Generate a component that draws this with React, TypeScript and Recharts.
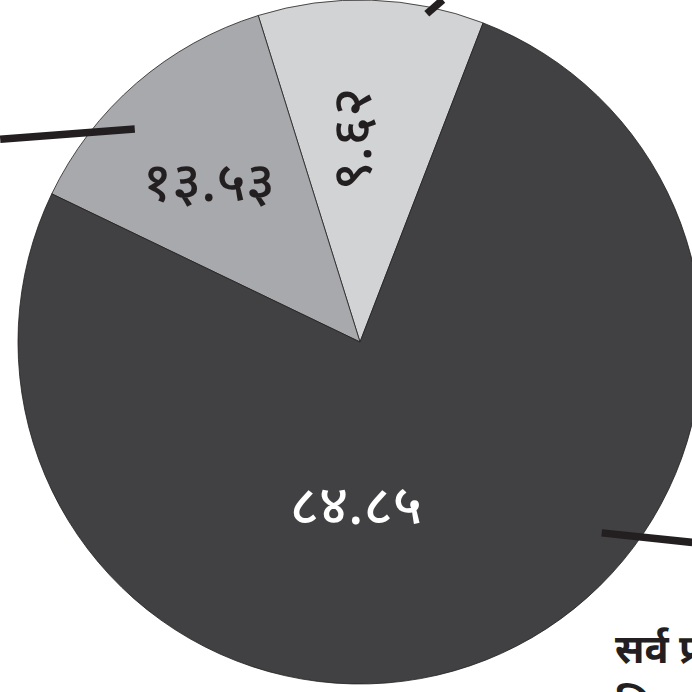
import React from 'react';
import { PieChart, Pie, Cell } from 'recharts';

// slice shares (angular extent), in drawing order
const sliceNames = ['light', 'mid', 'dark'];
const sliceShares = [10.67, 13.06, 76.27];
// printed value labels (Devanagari numerals)
const sliceLabels = ['९.६२', '१३.५३', '८४.८५'];
const footerLines = ['सर्व प्रथम', 'निकाय'];

const COLORS = ['#d1d3d4', '#a7a9ac', '#414042'];
const LABEL_COLORS = ['#231f20', '#231f20', '#ffffff'];
// label placement: [angle deg, radius px, rotation]
const LABEL_POS: [number, number, number][] = [
  [90.6, 203, -90],
  [134.4, 216, 0],
  [268.6, 169, 0],
];
// leader lines: [startAngle, startR, endAngle, endR]
const LEADERS: [number, number, number, number][] = [
  [78.5, 335, 76.4, 352],
  [136.6, 310, 150.6, 413],
  [-38.3, 308, -31.1, 388],
];

const FONT = "'Noto Sans Devanagari', 'Lohit Devanagari', 'Noto Sans', sans-serif";
const RAD = Math.PI / 180;
const polar = (cx: number, cy: number, r: number, a: number) => ({
  x: cx + r * Math.cos(-a * RAD),
  y: cy + r * Math.sin(-a * RAD),
});

const data = sliceNames.map((name, i) => ({ name, value: sliceShares[i], label: sliceLabels[i] }));

const renderLabel = (props: any) => {
  const { cx, cy, index } = props;
  const [a, r, rot] = LABEL_POS[index];
  const p = polar(cx, cy, r, a);
  const [a1, r1, a2, r2] = LEADERS[index];
  const s = polar(cx, cy, r1, a1);
  const e = polar(cx, cy, r2, a2);
  return (
    <g key={`lbl-${index}`}>
      <line x1={s.x} y1={s.y} x2={e.x} y2={e.y} stroke="#231f20" strokeWidth={7.5} />
      <text
        x={p.x}
        y={p.y}
        fill={LABEL_COLORS[index]}
        textAnchor="middle"
        dominantBaseline="central"
        fontSize={55}
        fontWeight={500}
        fontFamily={FONT}
        transform={rot ? `rotate(${rot} ${p.x} ${p.y})` : undefined}
      >
        {sliceLabels[index]}
      </text>
    </g>
  );
};

export default function App() {
  return (
    <div style={{ position: 'absolute', left: 0, top: 0, width: 692, height: 692, overflow: 'hidden', background: '#fff' }}>
      <PieChart width={692} height={692} margin={{ top: 0, right: 0, bottom: 0, left: 0 }}>
        <Pie
          data={data}
          dataKey="value"
          nameKey="name"
          cx={360}
          cy={342}
          outerRadius={342}
          startAngle={68.9}
          endAngle={428.9}
          stroke="#231f20"
          strokeWidth={0.8}
          label={renderLabel}
          labelLine={false}
          isAnimationActive={false}
        >
          {data.map((d, i) => (
            <Cell key={d.name} fill={COLORS[i]} />
          ))}
        </Pie>
      </PieChart>
      <div
        style={{
          position: 'absolute',
          left: 615,
          top: 625,
          fontFamily: FONT,
          fontWeight: 700,
          fontSize: 40,
          lineHeight: '56px',
          color: '#231f20',
          whiteSpace: 'nowrap',
        }}
      >
        {footerLines.map((t) => (
          <div key={t}>{t}</div>
        ))}
      </div>
    </div>
  );
}
